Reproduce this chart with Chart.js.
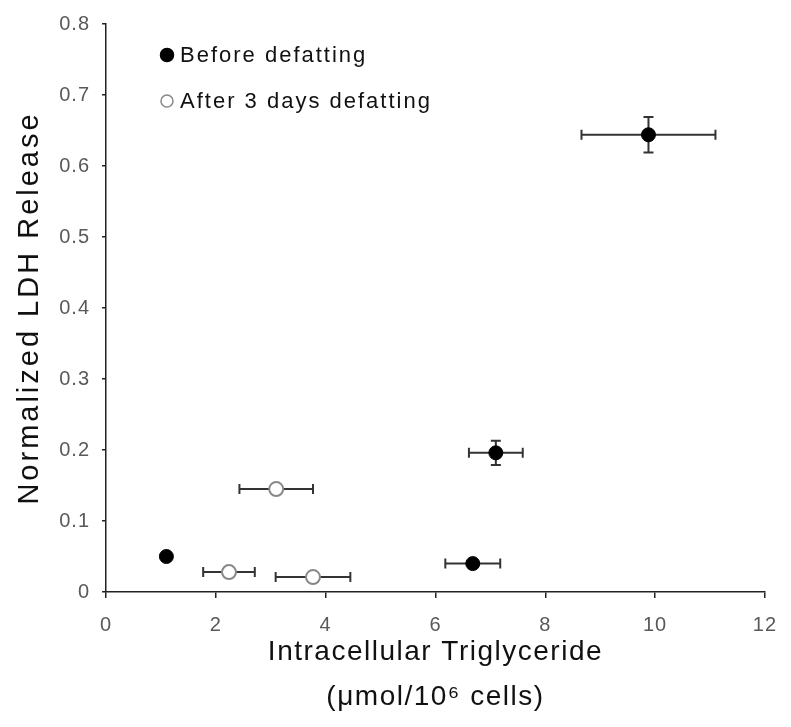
<!DOCTYPE html>
<html>
<head>
<meta charset="utf-8">
<script src="https://cdn.jsdelivr.net/npm/chart.js@4.4.1/dist/chart.umd.min.js"></script>
<style>
  html, body { margin: 0; padding: 0; background: #fff; }
  #wrap { width: 791px; height: 727px; }
</style>
</head>
<body>
<div id="wrap"><canvas id="ldh"></canvas></div>
<script>
// data
const beforeX = [1.1, 6.68, 7.1, 9.88]
const beforeY = [0.05, 0.04, 0.196, 0.644]
const beforeXErr = [0, 0.5, 0.49, 1.22]
const beforeYErr = [0, 0, 0.017, 0.025]

const afterX = [2.24, 3.1, 3.77]
const afterY = [0.028, 0.145, 0.021]
const afterXErr = [0.47, 0.67, 0.68]
const afterYErr = [0, 0, 0]

const xTicks = [0, 2, 4, 6, 8, 10, 12]
const yTicks = [0, 0.1, 0.2, 0.3, 0.4, 0.5, 0.6, 0.7, 0.8]

const labels = ['Before defatting', 'After 3 days defatting']

const font = "'Liberation Sans', Arial, sans-serif"

function points(xs, ys, xe, ye) {
  return xs.map((x, i) => ({ x: x, y: ys[i], xErr: xe[i], yErr: ye[i] }))
}

// the original lettering is a bit stretched, so space it out
const spacing = {
  id: 'spacing',
  afterLayout(chart) {
    const wide = { x: 1.5, y: 3 }
    Object.keys(wide).forEach((id) => {
      const s = chart.scales[id]
      if (s._spaced) return
      const orig = s.drawTitle
      s.drawTitle = function () {
        this.ctx.save()
        this.ctx.letterSpacing = wide[id] + 'px'
        orig.apply(this, arguments)
        this.ctx.restore()
      }
      s._spaced = true
    })
  },
  beforeDraw(chart) { chart.ctx.letterSpacing = '1px' },
  afterDraw(chart) { chart.ctx.letterSpacing = '0px' }
}

// error bars, drawn under the markers
const errorBars = {
  id: 'errorBars',
  beforeDatasetsDraw(chart) {
    const ctx = chart.ctx
    const xs = chart.scales.x
    const ys = chart.scales.y
    const cap = 5
    ctx.save()
    ctx.strokeStyle = '#333'
    ctx.lineWidth = 2
    chart.data.datasets.forEach((ds) => {
      ds.data.forEach((p) => {
        const cx = xs.getPixelForValue(p.x)
        const cy = ys.getPixelForValue(p.y)
        if (p.xErr) {
          const l = xs.getPixelForValue(p.x - p.xErr)
          const r = xs.getPixelForValue(p.x + p.xErr)
          ctx.beginPath()
          ctx.moveTo(l, cy); ctx.lineTo(r, cy)
          ctx.moveTo(l, cy - cap); ctx.lineTo(l, cy + cap)
          ctx.moveTo(r, cy - cap); ctx.lineTo(r, cy + cap)
          ctx.stroke()
        }
        if (p.yErr) {
          const t = ys.getPixelForValue(p.y + p.yErr)
          const b = ys.getPixelForValue(p.y - p.yErr)
          ctx.beginPath()
          ctx.moveTo(cx, t); ctx.lineTo(cx, b)
          ctx.moveTo(cx - cap, t); ctx.lineTo(cx + cap, t)
          ctx.moveTo(cx - cap, b); ctx.lineTo(cx + cap, b)
          ctx.stroke()
        }
      })
    })
    ctx.restore()
  }
}

// legend inside the plot, top left
const innerLegend = {
  id: 'innerLegend',
  afterDraw(chart) {
    const ctx = chart.ctx
    const x0 = chart.chartArea.left + 61
    const rows = [55, 101]
    ctx.save()
    ctx.font = '22px ' + font
    ctx.letterSpacing = '2px'
    ctx.textBaseline = 'middle'
    chart.data.datasets.forEach((ds, i) => {
      ctx.beginPath()
      ctx.arc(x0, rows[i], i ? 6 : 6.5, 0, Math.PI * 2)
      ctx.fillStyle = ds.backgroundColor
      ctx.fill()
      ctx.lineWidth = 1.5
      ctx.strokeStyle = ds.borderColor
      ctx.stroke()
      ctx.fillStyle = '#111'
      ctx.fillText(ds.label, x0 + 13, rows[i] + 1)
    })
    ctx.restore()
  }
}

new Chart(document.getElementById('ldh'), {
  type: 'scatter',
  data: {
    datasets: [{
      label: labels[0],
      data: points(beforeX, beforeY, beforeXErr, beforeYErr),
      backgroundColor: '#000',
      borderColor: '#000',
      borderWidth: 1,
      pointRadius: 7,
      pointHoverRadius: 7
    }, {
      label: labels[1],
      data: points(afterX, afterY, afterXErr, afterYErr),
      backgroundColor: '#fff',
      borderColor: '#888',
      borderWidth: 2,
      pointRadius: 7,
      pointHoverRadius: 7
    }]
  },
  options: {
    responsive: true,
    maintainAspectRatio: false,
    animation: false,
    layout: { padding: { left: 0, right: 25, top: 24, bottom: 7.5 } },
    plugins: {
      legend: { display: false },
      tooltip: { enabled: false }
    },
    scales: {
      x: {
        type: 'linear',
        min: 0,
        max: 12,
        afterFit(scale) { scale.height = 127.5 },
        afterBuildTicks(scale) { scale.ticks = xTicks.map(v => ({ value: v })) },
        border: { display: true, color: '#222', width: 1.5 },
        grid: { drawOnChartArea: false, drawTicks: true, tickLength: 6, color: '#222', lineWidth: 1.5 },
        ticks: { color: '#595959', font: { family: font, size: 20 }, padding: 15, maxRotation: 0 },
        title: {
          display: true,
          text: ['Intracellular Triglyceride', '(\u03bcmol/10\u2076 cells)'],
          color: '#111',
          font: { family: font, size: 28, lineHeight: 1.6 },
          padding: { top: 0, bottom: 0 }
        }
      },
      y: {
        type: 'linear',
        min: 0,
        max: 0.8,
        afterFit(scale) { scale.width = 106 },
        afterBuildTicks(scale) { scale.ticks = yTicks.map(v => ({ value: v })) },
        border: { display: true, color: '#222', width: 1.5 },
        grid: { drawOnChartArea: false, drawTicks: true, tickLength: 4, color: '#222', lineWidth: 1.5 },
        ticks: {
          color: '#595959',
          font: { family: font, size: 20 },
          padding: 12,
          callback: (v) => v === 0 ? '0' : v.toFixed(1)
        },
        title: {
          display: true,
          text: 'Normalized LDH Release',
          color: '#111',
          font: { family: font, size: 29 },
          padding: { top: 13, bottom: 0 }
        }
      }
    }
  },
  plugins: [spacing, errorBars, innerLegend]
})
</script>
</body>
</html>
